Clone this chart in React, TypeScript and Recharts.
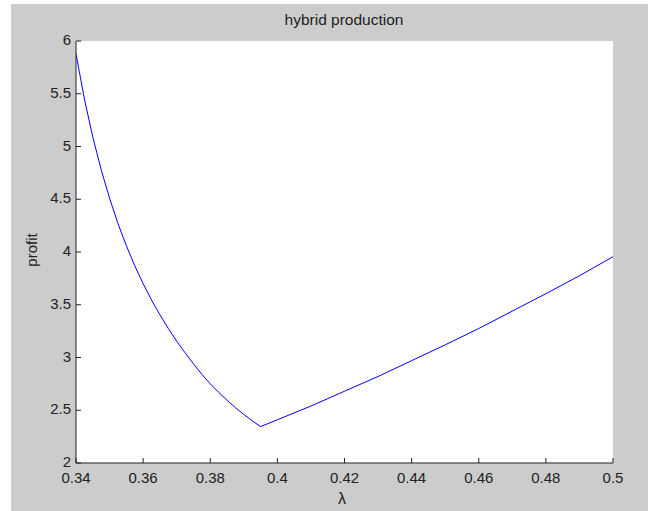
import { LineChart, Line, XAxis, YAxis, CartesianGrid } from 'recharts'

const lambdas = [
  0.34, 0.3425, 0.345, 0.3475, 0.35, 0.3525, 0.355, 0.3575, 0.36, 0.3625, 0.365,
  0.3675, 0.37, 0.3725, 0.375, 0.3775, 0.38, 0.3825, 0.385, 0.3875, 0.39, 0.3925,
  0.395, 0.4, 0.41, 0.42, 0.43, 0.44, 0.45, 0.46, 0.47, 0.48, 0.49, 0.5,
]
const profits = [
  5.88, 5.45, 5.09, 4.78, 4.51, 4.27, 4.06, 3.87, 3.7, 3.545, 3.405,
  3.275, 3.155, 3.045, 2.94, 2.84, 2.75, 2.67, 2.595, 2.525, 2.46, 2.4,
  2.345, 2.41, 2.54, 2.68, 2.82, 2.97, 3.12, 3.275, 3.44, 3.605, 3.775, 3.955,
]
const xTicks = [0.34, 0.36, 0.38, 0.4, 0.42, 0.44, 0.46, 0.48, 0.5]
const yTicks = [2, 2.5, 3, 3.5, 4, 4.5, 5, 5.5, 6]

const data = lambdas.map((l, i) => ({ lambda: l, profit: profits[i] }))

const FONT = '"Liberation Sans", Arial, sans-serif'
const INK = '#222'

const BottomTick = (props: any) => {
  const { x, y, payload } = props
  return (
    <g>
      <line x1={x} x2={x} y1={y} y2={y - 5} stroke={INK} />
      <text x={x} y={y + 20} textAnchor="middle" fontFamily={FONT} fontSize={15} fill={INK}>
        {String(payload.value)}
      </text>
    </g>
  )
}

const TopTick = (props: any) => {
  const { x, y } = props
  return <line x1={x} x2={x} y1={y} y2={y + 5} stroke={INK} />
}

const LeftTick = (props: any) => {
  const { x, y, payload } = props
  return (
    <g>
      <line x1={x} x2={x + 5} y1={y} y2={y} stroke={INK} />
      <text x={x - 5} y={y + 4} textAnchor="end" fontFamily={FONT} fontSize={15} fill={INK}>
        {String(payload.value)}
      </text>
    </g>
  )
}

const RightTick = (props: any) => {
  const { x, y } = props
  return <line x1={x} x2={x - 5} y1={y} y2={y} stroke={INK} />
}

export default function App() {
  return (
    <div style={{ position: 'absolute', left: 0, top: 0, width: 648, height: 511, background: '#fff' }}>
      <div style={{ position: 'absolute', left: 11, top: 4, width: 637, height: 507, background: '#cccccc' }} />
      <div style={{ position: 'absolute', left: 0, top: 0 }}>
        <LineChart width={648} height={511} data={data} margin={{ top: 41, right: 35, bottom: 0, left: 0 }}>
          <CartesianGrid horizontal={false} vertical={false} fill="#fff" stroke="none" />
          <XAxis
            dataKey="lambda"
            type="number"
            domain={[0.34, 0.5]}
            ticks={xTicks}
            interval={0}
            allowDataOverflow
            height={48}
            tickSize={0}
            tickMargin={0}
            tickLine={false}
            axisLine={{ stroke: INK }}
            tick={<BottomTick />}
          />
          <XAxis
            xAxisId="top"
            dataKey="lambda"
            orientation="top"
            type="number"
            domain={[0.34, 0.5]}
            ticks={xTicks}
            interval={0}
            allowDataOverflow
            height={0}
            tickSize={0}
            tickMargin={0}
            tickLine={false}
            axisLine={{ stroke: INK }}
            tick={<TopTick />}
          />
          <YAxis
            type="number"
            domain={[2, 6]}
            ticks={yTicks}
            interval={0}
            allowDataOverflow
            width={76}
            tickSize={0}
            tickMargin={0}
            tickLine={false}
            axisLine={{ stroke: INK }}
            tick={<LeftTick />}
          />
          <YAxis
            yAxisId="right"
            orientation="right"
            type="number"
            domain={[2, 6]}
            ticks={yTicks}
            interval={0}
            allowDataOverflow
            width={0}
            tickSize={0}
            tickMargin={0}
            tickLine={false}
            axisLine={{ stroke: INK }}
            tick={<RightTick />}
          />
          <Line
            type="linear"
            dataKey="profit"
            stroke="#0000ff"
            strokeWidth={1}
            dot={false}
            isAnimationActive={false}
          />
        </LineChart>
      </div>
      <svg width={648} height={511} style={{ position: 'absolute', left: 0, top: 0, pointerEvents: 'none' }}>
        <text x={344} y={25} textAnchor="middle" fontFamily={FONT} fontSize={15.5} fill={INK}>
          hybrid production
        </text>
        <text x={342} y={504} textAnchor="middle" fontFamily={FONT} fontSize={16} fill={INK}>
          λ
        </text>
        <text
          x={0}
          y={0}
          transform="translate(37 250) rotate(-90)"
          textAnchor="middle"
          fontFamily={FONT}
          fontSize={15}
          fill={INK}
        >
          profit
        </text>
      </svg>
    </div>
  )
}
